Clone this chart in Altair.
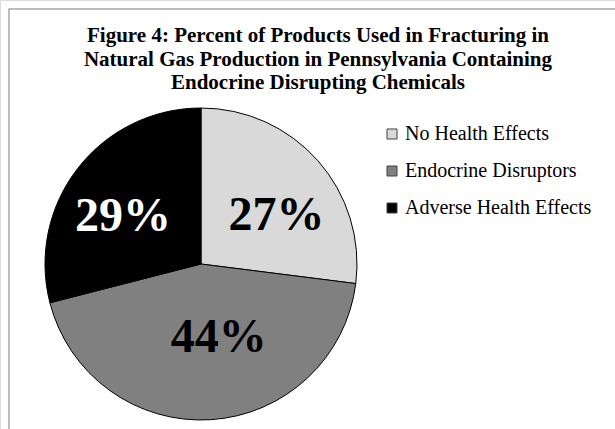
import altair as alt
import pandas as pd

categories = ["No Health Effects", "Endocrine Disruptors", "Adverse Health Effects"]
percents = [27, 44, 29]
title_lines = [
    "Figure 4: Percent of Products Used in Fracturing in",
    "Natural Gas Production in Pennsylvania Containing",
    "Endocrine Disrupting Chemicals",
]

fill_colors = ["#d9d9d9", "#808080", "#000000"]
label_colors = ["#000000", "#000000", "#ffffff"]
label_shift = [(8, 12), (12, -16), (-7, 8)]

df = pd.DataFrame({"category": categories, "percent": percents, "idx": list(range(len(categories)))})

CX, CY, R = 201, 264, 156
SERIF = "Liberation Serif"

frame = alt.Chart(pd.DataFrame({"a": [0]})).mark_rect(
    fill=None, stroke="#a6a6a6", strokeWidth=1.5
).encode(x=alt.value(9), y=alt.value(9), x2=alt.value(700), y2=alt.value(500))

title = alt.Chart(pd.DataFrame({"t": ["\n".join(title_lines)]})).mark_text(
    font=SERIF, fontSize=21, fontWeight="bold", align="center", baseline="top",
    lineBreak="\n", lineHeight=23.5, color="#000000"
).encode(text="t:N", x=alt.value(318), y=alt.value(25))

pie = alt.Chart(df).mark_arc(radius=R, stroke="#000000", strokeWidth=1).encode(
    theta=alt.Theta("percent:Q", stack=True),
    order=alt.Order("idx:Q"),
    color=alt.Color(
        "category:N",
        scale=alt.Scale(domain=categories, range=fill_colors),
        sort=categories,
        legend=alt.Legend(
            title=None, orient="none", legendX=382, legendY=124,
            symbolType="square", symbolSize=100, symbolStrokeColor="#404040",
            symbolStrokeWidth=1, labelFont=SERIF, labelFontSize=20,
            labelColor="#000000", labelOffset=3, rowPadding=17, padding=0,
            labelLimit=300,
        ),
    ),
    x=alt.value(CX), y=alt.value(CY),
)

base = alt.Chart(df).transform_window(
    cum="sum(percent)", sort=[alt.SortField("idx")], frame=[None, 0]
).transform_calculate(
    mid="datum.cum - datum.percent / 2",
    label="datum.percent + '%'",
)

texts = []
for cat, col, (dx, dy) in zip(categories, label_colors, label_shift):
    texts.append(
        base.transform_filter(alt.datum.category == cat).mark_text(
            radius=90, font=SERIF, fontSize=48, fontWeight="bold", color=col,
            dx=dx, dy=dy, align="center", baseline="middle"
        ).encode(
            theta=alt.Theta("mid:Q", stack=None, scale=alt.Scale(domain=[0, 100])),
            text="label:N",
            x=alt.value(CX), y=alt.value(CY),
        )
    )

chart = alt.layer(frame, title, pie, *texts).properties(
    width=615, height=429, autosize=alt.AutoSizeParams(type="none"), padding=0
).resolve_scale(theta="independent").configure_view(stroke=None).configure(background="white")

chart.save("out.html", embed_options={"renderer": "svg", "actions": False})
